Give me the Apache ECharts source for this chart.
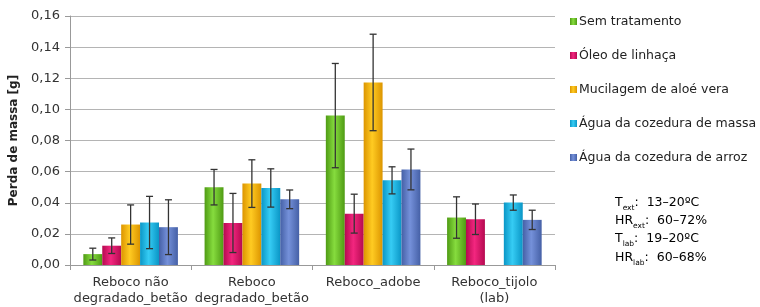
<!DOCTYPE html>
<html>
<head>
<meta charset="utf-8">
<script src="https://cdn.jsdelivr.net/npm/echarts@6/dist/echarts.min.js"></script>
<style>
html, body { margin: 0; padding: 0; background: #fff; }
#chart { width: 760px; height: 307px; }
</style>
</head>
<body>
<div id="chart"></div>
<script>
// categorias
var categories = ['Reboco não\ndegradado_betão', 'Reboco\ndegradado_betão', 'Reboco_adobe', 'Reboco_tijolo\n(lab)'];
var seriesNames = ['Sem tratamento', 'Óleo de linhaça', 'Mucilagem de aloé vera', 'Água da cozedura de massa', 'Água da cozedura de arroz'];
var yTicks = [0, 0.02, 0.04, 0.06, 0.08, 0.10, 0.12, 0.14, 0.16];

// valores médios
var semTratamento = [0.007, 0.050, 0.096, 0.0305];
var oleoLinhaca   = [0.0124, 0.027, 0.033, 0.0294];
var mucilagem     = [0.026, 0.0523, 0.1173, null];
var aguaMassa     = [0.0273, 0.0495, 0.0544, 0.0401];
var aguaArroz     = [0.0243, 0.0422, 0.0614, 0.029];

// desvio padrão (barras de erro)
var semTratamentoErr = [0.0038, 0.0114, 0.0335, 0.0133];
var oleoLinhacaErr   = [0.005, 0.019, 0.0125, 0.0098];
var mucilagemErr     = [0.0126, 0.0153, 0.031, null];
var aguaMassaErr     = [0.0168, 0.0123, 0.0087, 0.0049];
var aguaArrozErr     = [0.0176, 0.006, 0.0131, 0.0062];

var values = [semTratamento, oleoLinhaca, mucilagem, aguaMassa, aguaArroz];
var errors = [semTratamentoErr, oleoLinhacaErr, mucilagemErr, aguaMassaErr, aguaArrozErr];

var colors = [
    ['#4f9b14', '#86dc3e'],
    ['#b50a50', '#f3267f'],
    ['#dc9500', '#ffcb22'],
    ['#0a96c6', '#36ccf4'],
    ['#4560a6', '#7591da']
];

var font = 'DejaVu Sans, sans-serif';
var catGap = 0.22;

function grad(c) {
    return new echarts.graphic.LinearGradient(0, 0, 1, 0, [
        {offset: 0, color: c[0]},
        {offset: 0.45, color: c[1]},
        {offset: 1, color: c[0]}
    ]);
}

var series = [];
values.forEach(function (v, i) {
    series.push({
        name: seriesNames[i],
        type: 'bar',
        barGap: '0%',
        barCategoryGap: (catGap * 100) + '%',
        itemStyle: {color: grad(colors[i])},
        data: v
    });
});

errors.forEach(function (e, i) {
    var d = [];
    for (var k = 0; k < categories.length; k++) {
        if (values[i][k] == null || e[k] == null) continue;
        d.push([k, values[i][k] - e[k], values[i][k] + e[k]]);
    }
    series.push({
        type: 'custom',
        z: 10,
        silent: true,
        encode: {x: 0, y: [1, 2]},
        data: d,
        renderItem: function (params, api) {
            var band = api.size([1, 0])[0];
            var bw = band * (1 - catGap) / 5;
            var off = (i - 2) * bw;
            var hi = api.coord([api.value(0), api.value(2)]);
            var lo = api.coord([api.value(0), api.value(1)]);
            var x = hi[0] + off;
            var cap = 3.5;
            var st = {stroke: '#333', lineWidth: 1.3};
            return {
                type: 'group',
                children: [
                    {type: 'line', shape: {x1: x, y1: hi[1], x2: x, y2: lo[1]}, style: st},
                    {type: 'line', shape: {x1: x - cap, y1: hi[1], x2: x + cap, y2: hi[1]}, style: st},
                    {type: 'line', shape: {x1: x - cap, y1: lo[1], x2: x + cap, y2: lo[1]}, style: st}
                ]
            };
        }
    });
});

var chart = echarts.init(document.getElementById('chart'));
chart.setOption({
    animation: false,
    grid: {left: 70, right: 205, top: 16, bottom: 41},
    legend: {
        orient: 'vertical',
        left: 565,
        top: 10,
        icon: 'rect',
        itemWidth: 7,
        itemHeight: 7,
        itemGap: 21,
        data: seriesNames,
        textStyle: {fontFamily: font, fontSize: 12.5, color: '#222', padding: [0, 0, 0, -3]}
    },
    xAxis: {
        type: 'category',
        data: categories,
        axisLine: {lineStyle: {color: '#999'}},
        axisTick: {show: true, length: 5, lineStyle: {color: '#999'}},
        axisLabel: {fontFamily: font, fontSize: 13, color: '#333', margin: 10, lineHeight: 16, interval: 0}
    },
    yAxis: {
        type: 'value',
        min: yTicks[0],
        max: yTicks[yTicks.length - 1],
        interval: 0.02,
        name: 'Perda de massa [g]',
        nameLocation: 'middle',
        nameGap: 48,
        nameTextStyle: {fontFamily: font, fontSize: 12, fontWeight: 'bold', color: '#222'},
        axisLine: {show: true, lineStyle: {color: '#999'}},
        axisTick: {show: true, length: 5, lineStyle: {color: '#999'}},
        axisLabel: {
            fontFamily: font, fontSize: 13, color: '#333', margin: 10,
            formatter: function (v) { return v.toFixed(2).replace('.', ','); }
        },
        splitLine: {lineStyle: {color: '#b4b4b4'}}
    },
    graphic: [{
        type: 'text',
        left: 615,
        top: 196,
        style: {
            text: '{n|T}{s|ext}{n|:  13–20ºC}\n{n|HR}{s|ext}{n|:  60–72%}\n{n|T}{s|lab}{n|:  19–20ºC}\n{n|HR}{s|lab}{n|:  60–68%}',
            rich: {
                n: {fontFamily: font, fontSize: 12.5, color: '#222', lineHeight: 18.3},
                s: {fontFamily: font, fontSize: 7.5, color: '#222', lineHeight: 18.3, verticalAlign: 'bottom', padding: [6, 0, 0, 0]}
            }
        }
    }],
    series: series
});
</script>
</body>
</html>
